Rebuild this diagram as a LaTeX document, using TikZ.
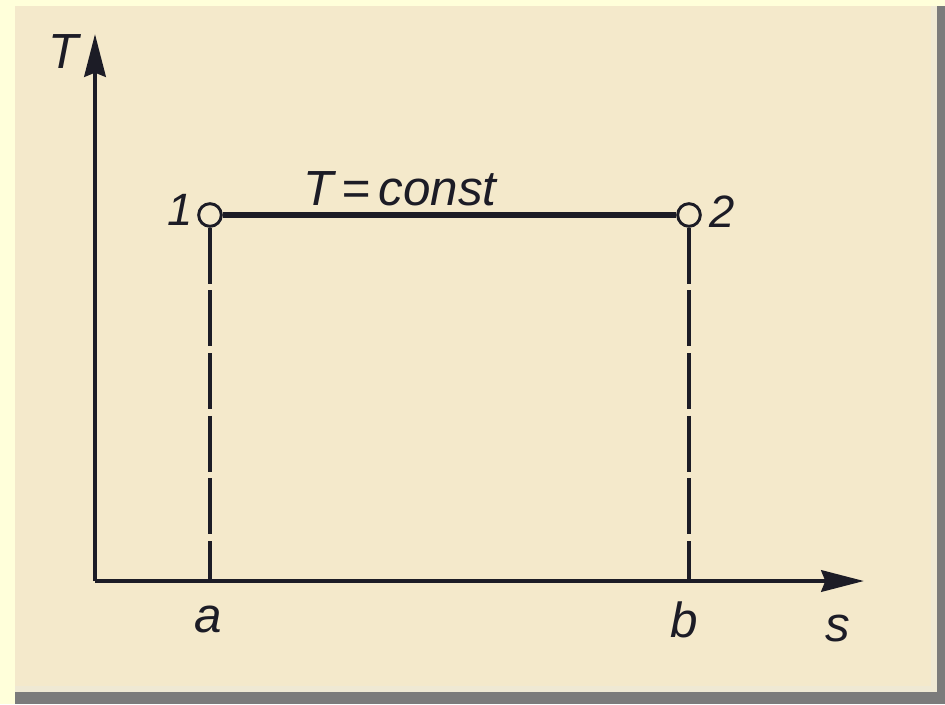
\documentclass[tikz,border=0pt]{standalone}
\usepackage{fontspec}
\setmainfont{Liberation Sans}
\usetikzlibrary{arrows.meta}
\definecolor{outerbg}{HTML}{FFFFDA}
\definecolor{paper}{HTML}{F4E9CB}
\definecolor{paperedge}{HTML}{EFE9D4}
\definecolor{shadow}{HTML}{7B7B7B}
\definecolor{ink}{HTML}{1C1C26}
\tikzset{
  axisline/.style={draw=ink, line width=3.4pt, -{Stealth[length=32pt,width=16pt,inset=3pt]}},
  isoline/.style={draw=ink, line width=5pt},
  dropline/.style={draw=ink, line width=2.3pt, dash pattern=on 42pt off 5pt},
  statept/.style={circle, draw=ink, line width=2.2pt, fill=paper, minimum size=17pt, inner sep=0pt},
  lbl/.style={font=\fontsize{37}{40}\selectfont\itshape, text=ink, inner sep=0pt},
  numlbl/.style={font=\fontsize{34}{38}\selectfont\itshape, text=ink, inner sep=0pt}
}
\begin{document}
\begin{tikzpicture}[x=0.75pt,y=-0.75pt]
\useasboundingbox (0,0) rectangle (945,704);
% frame
\fill[outerbg] (0,0) rectangle (945,704);
\fill[shadow] (937,6) rectangle (945,704);
\fill[shadow] (15,692) rectangle (945,704);
\fill[paperedge] (15,6) rectangle (937,692);
\fill[paper] (15,6) rectangle (931,686);
% axes
\coordinate (O) at (95,581);
\coordinate (Ttip) at (95,34);
\coordinate (stip) at (864,581);
\draw[axisline] (O) -- (Ttip);
\draw[axisline] (O) -- (stip);
% state points
\node[statept] (p1) at (210,215) {};
\node[statept] (p2) at (689,215) {};
\draw[isoline] (p1.east) -- (p2.west);
\draw[dropline] (p1.south) -- (p1 |- O);
\draw[dropline] (p2.south) -- (p2 |- O);
% labels
\node[lbl] (lT) at (64,52) {T};
\node[numlbl] (l1) at (180,210) {1};
\node[numlbl] (l2) at (722,212) {2};
\node[lbl, anchor=base] (lconst) at (400,205) {T\,=\,const};
\node[lbl, anchor=base] (la) at (208,632) {a};
\node[lbl, anchor=base] (lb) at (684,637) {b};
\node[lbl, anchor=base] (ls) at (838,641) {s};
\end{tikzpicture}
\end{document}
